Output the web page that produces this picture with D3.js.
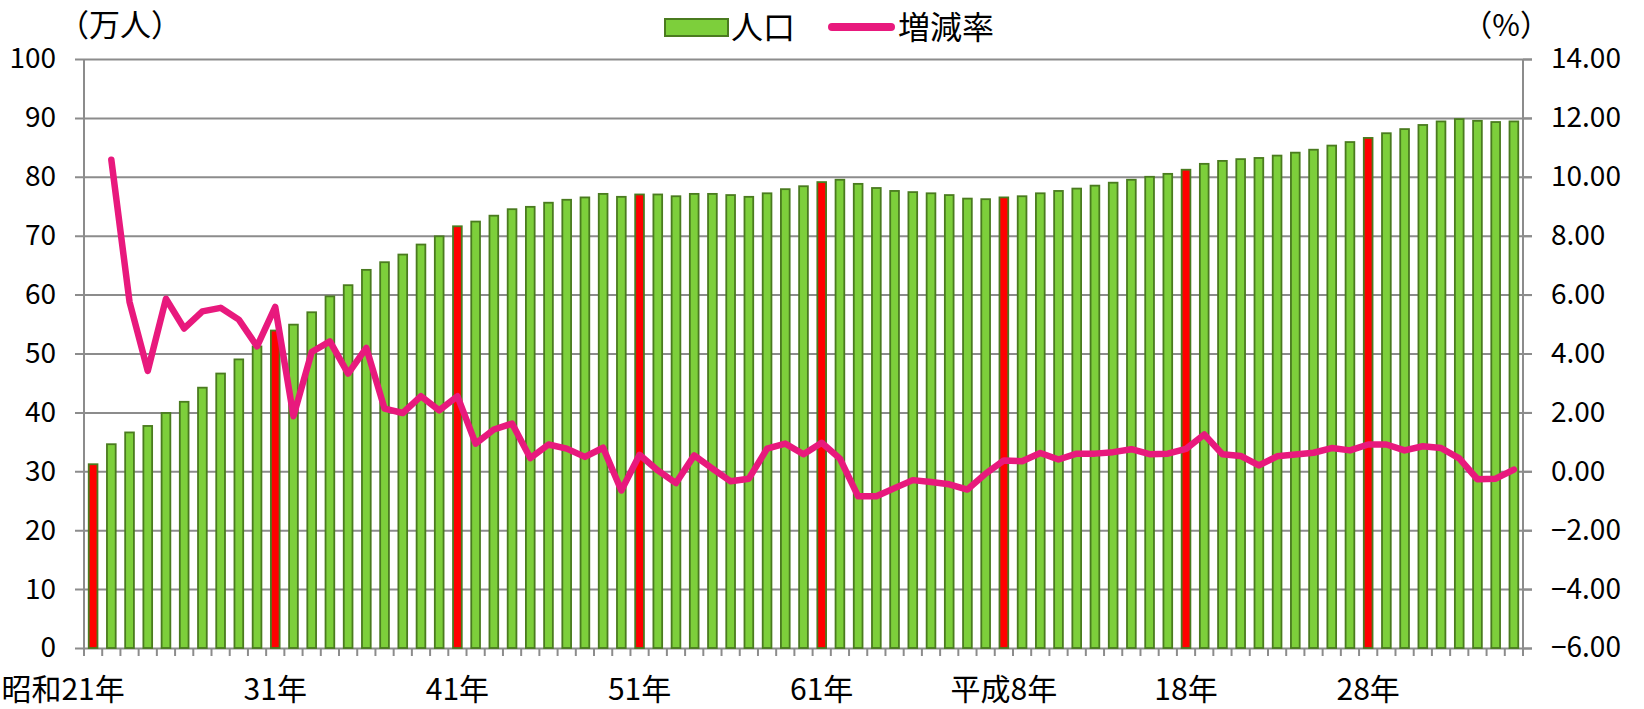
<!DOCTYPE html>
<html>
<head>
<meta charset="utf-8">
<script src="https://cdn.jsdelivr.net/npm/d3@7"></script>
<style>
body { margin: 0; background: #fff; }
text { font-family: "Noto Sans CJK JP", "Noto Sans", sans-serif; fill: #000; }
</style>
</head>
<body>
<svg id="chart" width="1644" height="709"></svg>
<script>
// years 昭和21年 (1946) .. 令和6年 (2024)
var years = [1946,1947,1948,1949,1950,1951,1952,1953,1954,1955,
    1956,1957,1958,1959,1960,1961,1962,1963,1964,1965,
    1966,1967,1968,1969,1970,1971,1972,1973,1974,1975,
    1976,1977,1978,1979,1980,1981,1982,1983,1984,1985,
    1986,1987,1988,1989,1990,1991,1992,1993,1994,1995,
    1996,1997,1998,1999,2000,2001,2002,2003,2004,2005,
    2006,2007,2008,2009,2010,2011,2012,2013,2014,2015,
    2016,2017,2018,2019,2020,2021,2022,2023,2024];

// 人口 (万人)
var population = [31.2,34.6,36.6,37.7,39.9,41.8,44.2,46.6,49.0,51.2,
    53.9,54.9,57.0,59.7,61.6,64.2,65.5,66.8,68.5,69.9,
    71.6,72.4,73.4,74.5,74.9,75.6,76.1,76.5,77.1,76.6,
    77.0,77.0,76.7,77.1,77.1,76.9,76.6,77.2,77.9,78.4,
    79.1,79.5,78.8,78.1,77.6,77.4,77.2,76.9,76.3,76.2,
    76.5,76.7,77.2,77.6,78.0,78.5,79.0,79.5,80.0,80.5,
    81.2,82.2,82.7,83.0,83.2,83.6,84.1,84.6,85.3,85.9,
    86.6,87.4,88.1,88.8,89.4,89.8,89.5,89.3,89.4];

// 増減率 (%), from 1947
var rateYears = years.slice(1);
var growthRate = [10.58,5.75,3.41,5.86,4.85,5.43,5.55,5.15,4.24,
    5.58,1.87,4.05,4.41,3.32,4.19,2.13,1.98,2.55,2.07,
    2.55,0.94,1.42,1.62,0.45,0.91,0.77,0.49,0.80,-0.65,
    0.56,0.03,-0.40,0.54,0.09,-0.34,-0.25,0.77,0.94,0.58,
    0.97,0.43,-0.85,-0.85,-0.57,-0.30,-0.36,-0.44,-0.62,-0.08,
    0.37,0.34,0.62,0.40,0.60,0.60,0.65,0.75,0.58,0.60,
    0.76,1.25,0.58,0.52,0.20,0.51,0.57,0.63,0.79,0.71,
    0.91,0.91,0.71,0.85,0.79,0.44,-0.27,-0.25,0.06];

// highlighted (red) years and x labels
var redYears = [1946,1956,1966,1976,1986,1996,2006,2016];
var labelYears = [1946,1956,1966,1976,1986,1996,2006,2016];
var labelTexts = ["昭和21年","31年","41年","51年","61年","平成8年","18年","28年"];

var leftTicks = [0,10,20,30,40,50,60,70,80,90,100];
var rightTicks = [-6,-4,-2,0,2,4,6,8,10,12,14];

var margin = {top: 59, left: 84},
    width = 1439,
    height = 589;

var green = "#7dcf3b", greenEdge = "#4a7b1f", red = "#ff0000",
    pink = "#e8197d", gridColor = "#8c8c8c";

var svg = d3.select("#chart");
var g = svg.append("g")
    .attr("transform", "translate(" + margin.left + "," + margin.top + ")");

var x = d3.scaleBand().domain(years).range([0, width])
    .paddingInner(0.52).paddingOuter(0.26);
var yL = d3.scaleLinear().domain([0, 100]).range([height, 0]);
var yR = d3.scaleLinear().domain([-6, 14]).range([height, 0]);

// gridlines + left labels (gridlines stick out 9px on both sides)
var leftAxis = g.append("g")
    .attr("transform", "translate(-9,0)")
    .call(d3.axisLeft(yL).tickValues(leftTicks)
        .tickSizeInner(-(width + 18)).tickSizeOuter(0).tickPadding(19));
leftAxis.select(".domain").remove();
leftAxis.selectAll("line").attr("stroke", gridColor).attr("stroke-width", 2);
leftAxis.selectAll("text").style("font-size", "28px");

var rightAxis = g.append("g")
    .attr("transform", "translate(" + width + ",0)")
    .call(d3.axisRight(yR).tickValues(rightTicks)
        .tickSize(9).tickPadding(19).tickFormat(d3.format(".2f")));
rightAxis.select(".domain").remove();
rightAxis.selectAll("line").attr("stroke", gridColor).attr("stroke-width", 2);
rightAxis.selectAll("text").style("font-size", "28px");

// bars
g.selectAll(".bar")
    .data(population)
    .enter().append("rect")
    .attr("class", "bar")
    .attr("x", function(d, i) { return x(years[i]); })
    .attr("y", function(d) { return yL(d); })
    .attr("width", x.bandwidth())
    .attr("height", function(d) { return yL(0) - yL(d); })
    .attr("fill", function(d, i) { return redYears.indexOf(years[i]) >= 0 ? red : green; })
    .attr("stroke", greenEdge)
    .attr("stroke-width", 1.8);

// axis lines
var half = (x.step() - x.bandwidth()) / 2;
var bounds = years.map(function(d) { return x(d) - half; });
bounds.push(x(years[years.length - 1]) + x.bandwidth() + half);

g.selectAll(".xtick")
    .data(bounds)
    .enter().append("line")
    .attr("class", "xtick")
    .attr("x1", function(d) { return d; })
    .attr("x2", function(d) { return d; })
    .attr("y1", height)
    .attr("y2", height + 8)
    .attr("stroke", gridColor).attr("stroke-width", 2);

g.append("line").attr("x1", 0).attr("x2", 0).attr("y1", 0).attr("y2", height)
    .attr("stroke", gridColor).attr("stroke-width", 2);
g.append("line").attr("x1", width).attr("x2", width).attr("y1", 0).attr("y2", height)
    .attr("stroke", gridColor).attr("stroke-width", 2);

// line
var line = d3.line()
    .x(function(d, i) { return x(rateYears[i]) + x.bandwidth() / 2; })
    .y(function(d) { return yR(d); });

g.append("path")
    .datum(growthRate)
    .attr("d", line)
    .attr("fill", "none")
    .attr("stroke", pink)
    .attr("stroke-width", 6.5)
    .attr("stroke-linejoin", "round")
    .attr("stroke-linecap", "round");

// x labels
g.selectAll(".xlabel")
    .data(labelYears)
    .enter().append("text")
    .attr("class", "xlabel")
    .attr("x", function(d) { return x(d) + x.bandwidth() / 2; })
    .attr("dx", function(d, i) { return i === 0 ? -30 : 0; })
    .attr("y", height + 52)
    .attr("text-anchor", "middle")
    .style("font-size", "30px")
    .text(function(d, i) { return labelTexts[i]; });

// units
svg.append("text").attr("x", 58).attr("y", 36).style("font-size", "31px").text("（万人）");
svg.append("text").attr("x", 1550).attr("y", 36).attr("text-anchor", "end")
    .style("font-size", "30px").text("（%）");

// legend
var legend = svg.append("g");
legend.append("rect").attr("x", 665).attr("y", 19).attr("width", 63).attr("height", 17)
    .attr("fill", green).attr("stroke", greenEdge).attr("stroke-width", 2);
legend.append("text").attr("x", 731).attr("y", 39).style("font-size", "32px").text("人口");
legend.append("line").attr("x1", 832).attr("x2", 891).attr("y1", 27).attr("y2", 27)
    .attr("stroke", pink).attr("stroke-width", 8).attr("stroke-linecap", "round");
legend.append("text").attr("x", 898).attr("y", 39).style("font-size", "32px").text("増減率");
</script>
</body>
</html>
